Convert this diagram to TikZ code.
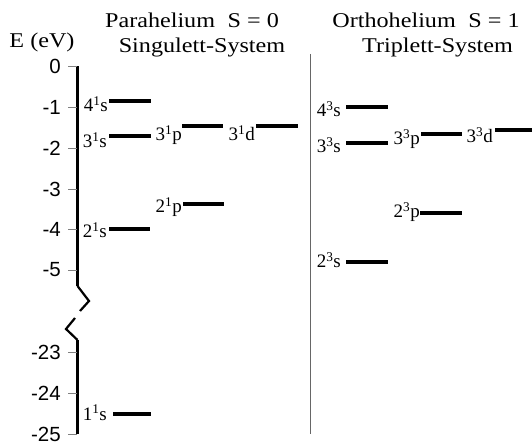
\documentclass[tikz,border=0pt]{standalone}
\usepackage{fontspec}
\setmainfont[FakeStretch=1.15]{Liberation Serif}
\newfontfamily\lvlfont{Liberation Serif}
\newfontfamily\tickfont{Liberation Sans}
\usetikzlibrary{positioning}

\begin{document}
\begin{tikzpicture}[x=1pt, y=-1pt,
  every node/.style={inner sep=0pt},
  ttl/.style={font=\fontsize{21}{24}\selectfont, anchor=base},
  lbl/.style={font=\lvlfont\fontsize{19}{22}\selectfont, anchor=base east},
  tck/.style={font=\tickfont\fontsize{20.5}{22}\selectfont},
  lvl/.style={line width=3.5pt},
  axs/.style={line width=3pt},
  brk/.style={line width=2.2pt},
  tk/.style={gray, line width=0.9pt},
  sep/.style={gray!80!black, line width=1pt}
]
\useasboundingbox (0,0) rectangle (532,443);

%% headings
\node[ttl] (unit)  at (42,48)    {E (eV)};
\node[ttl] (para)  at (192,28)   {Parahelium\hspace{0.6em}S = 0};
\node[ttl] (sing)  at (202,53)   {Singulett-System};
\node[ttl] (ortho) at (426,28)   {Orthohelium\hspace{0.6em}S = 1};
\node[ttl] (trip)  at (437.5,53) {Triplett-System};

%% energy axis with break
\coordinate (atop) at (77.5,66.5);
\coordinate (ba1)  at (77.5,286);
\coordinate (ba2)  at (89,301);
\coordinate (ba3)  at (80,311);
\coordinate (bb1)  at (75,318);
\coordinate (bb2)  at (66,329);
\coordinate (bb3)  at (77.5,340);
\coordinate (abot) at (77.5,434);
\draw[axs] (atop) -- (ba1);
\draw[brk] (ba1) -- (ba2) -- (ba3);
\draw[brk] (bb1) -- (bb2) -- (bb3);
\draw[axs] (bb3) -- (abot);

%% ticks
\foreach \v/\yy in {0/66.5, -1/107, -2/148, -3/189, -4/229, -5/270,
                    -23/352, -24/393, -25/434}{
  \coordinate (tk\v) at (77,\yy);
  \draw[tk] (tk\v) -- ++(-9,0);
  \node[tck, left=16pt of tk\v] (tl\v) {\v};
}

%% divider between the two systems
\coordinate (dtop) at (310,54);
\coordinate (dbot) at (310,434);
\draw[sep] (dtop) -- (dbot);

%% levels: name / label x / x1 / x2 / y / baseline drop / text
\foreach \nm/\lx/\xa/\xb/\yy/\dd/\txt in {
    s4/108/109/151/101/11/{4\textsuperscript{1}s},
    s3/107/109/151/136/12/{3\textsuperscript{1}s},
    p3s/182/182/223/126/15/{3\textsuperscript{1}p},
    d3s/255/256/298/126/15/{3\textsuperscript{1}d},
    p2s/182/183/224/204/9/{2\textsuperscript{1}p},
    s2/107/109/150/229/9/{2\textsuperscript{1}s},
    s1/107/113/151/414/6/{1\textsuperscript{1}s},
    t4s/341/346/388/107/10/{4\textsuperscript{3}s},
    t3s/341/346/388/143/10/{3\textsuperscript{3}s},
    t3p/420/421/462/134/11/{3\textsuperscript{3}p},
    t3d/493/495/532/130/13/{3\textsuperscript{3}d},
    t2p/420/420/462/213/5/{2\textsuperscript{3}p},
    t2s/341/346/388/262/6/{2\textsuperscript{3}s}}{
  \coordinate (\nm a) at (\xa,\yy);
  \coordinate (\nm b) at (\xb,\yy);
  \draw[lvl] (\nm a) -- (\nm b);
  \node[lbl] (\nm l) at (\lx,\yy+\dd) {\txt};
}
\end{tikzpicture}
\end{document}
